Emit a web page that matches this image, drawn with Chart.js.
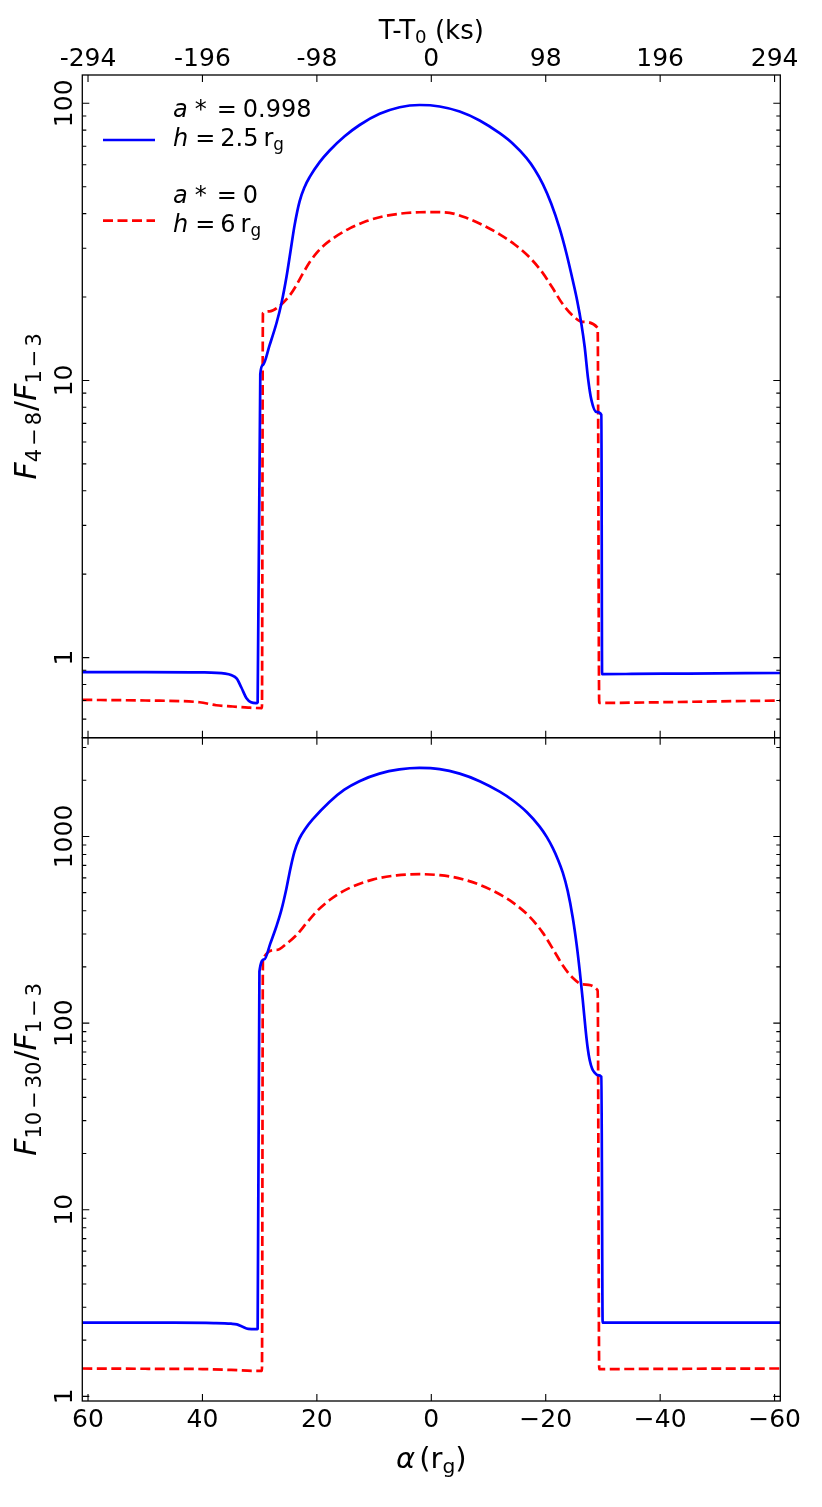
<!DOCTYPE html>
<html>
<head>
<meta charset="utf-8">
<script src="https://cdn.jsdelivr.net/npm/chart.js@4.4.0/dist/chart.umd.min.js"></script>
<style>
  html, body { margin: 0; padding: 0; background: #fff; }
  #wrap { position: relative; width: 822px; height: 1507px; }
  .panel { position: absolute; left: 0; top: 0; width: 822px; height: 1507px; }
</style>
</head>
<body>
<div id="wrap">
  <div class="panel"><canvas id="topChart"></canvas></div>
  <div class="panel"><canvas id="bottomChart"></canvas></div>
</div>
<script>
// tick values
const ALPHA_TICKS = [60, 40, 20, 0, -20, -40, -60];
const TIME_TICKS = [-294, -196, -98, 0, 98, 196, 294];
const TOP_Y_LABELS = [1, 10, 100];
const BOTTOM_Y_LABELS = [1, 10, 100, 1000];

// top panel: F(4-8)/F(1-3)
const topBlueAlpha = [61, 50, 40, 36, 35, 34, 33.2, 32.3, 31.5, 30.6, 30.35,
  29.89, 29.43, 28.26, 27.04, 26.17, 25.30, 24.60, 23.90, 23.02, 22.14, 21.27, 19.52, 17.77, 15.15, 12.53, 9.03, 5.53, 2.04,
  -1.46, -4.96, -8.45, -11.95, -14.22, -16.62, -18.07, -19.52, -20.97, -22.44, -23.59, -24.76, -25.50, -26.23, -26.81, -27.39,
  -27.98, -28.86, -29.73, -29.85, -35, -45, -61];
const topBlueRatio = [0.886, 0.886, 0.884, 0.875, 0.865, 0.84, 0.78, 0.714, 0.69, 0.685, 0.69,
  10.53, 11.37, 13.41, 16.15, 19.07, 23.71, 29.33, 36.27, 44.27, 49.93, 54.13, 61.32, 67.56, 76.03, 83.5, 91.6, 96.8, 98.6,
  97.4, 93.4, 86.7, 78.0, 71.6, 63.5, 57.7, 51.0, 43.4, 35.3, 28.9, 22.8, 19.4, 16.0, 13.2, 10.2,
  8.51, 7.70, 7.51, 0.872, 0.873, 0.876, 0.88];

const topRedAlpha = [61, 50, 40.5, 37.6, 34.7, 32, 29.6,
  29.43, 28.26, 26.51, 24.76, 23.71, 22.66, 21.27, 20.04, 18.64, 17.25, 14.27, 11.30, 8.51, 5.53, 2.04, -0.24,
  -3.21, -6.18, -8.98, -11.95, -14.58, -17.20, -19.47, -21.21, -22.96, -24.71, -26.46, -29.08,
  -29.35, -40, -50, -61];
const topRedRatio = [0.704, 0.700, 0.690, 0.673, 0.666, 0.660, 0.657,
  17.48, 17.76, 18.58, 20.25, 21.83, 23.88, 26.69, 28.84, 30.88, 32.50, 35.38, 37.58, 39.04, 39.96, 40.44, 40.51,
  40.24, 38.58, 36.39, 33.66, 30.95, 27.76, 24.44, 21.54, 18.86, 17.15, 16.27, 15.48,
  0.686, 0.690, 0.695, 0.700];

// bottom panel: F(10-30)/F(1-3)
const bottomBlueAlpha = [61, 45, 38, 35, 34, 33, 32, 30.6, 30.35,
  30.04, 29.17, 28.13, 27.08, 26.21, 25.33, 24.63, 23.93, 23.06, 22.01, 20.78, 17.81, 15.19, 12.56, 9.07, 5.57, 2.07,
  -1.46, -4.96, -8.45, -11.95, -14.22, -16.67, -18.94, -20.17, -21.22, -22.09, -22.97, -23.84, -24.72, -25.42, -25.94,
  -26.47, -26.99, -27.34, -27.69, -28.12, -28.56, -29.08, -29.73,
  -29.95, -45, -61];
const bottomBlueRatio = [2.48, 2.48, 2.47, 2.45, 2.43, 2.36, 2.30, 2.29, 2.30,
  189, 219.9, 267.5, 329.2, 402.6, 525.0, 672.0, 826.8, 973.2, 1100, 1230, 1532, 1781, 1979, 2171, 2287, 2330,
  2296, 2171, 1979, 1739, 1564, 1353, 1130, 995, 869, 758, 642, 511, 368, 261, 191,
  133, 90.9, 73.3, 63.2, 56.9, 54.2, 52.6, 51.5,
  2.48, 2.48, 2.48];

const bottomRedAlpha = [61, 50, 40, 35, 31, 29.6,
  29.43, 27.04, 25.29, 23.54, 21.79, 20.04, 17.77, 14.80, 10.25, 6.06, 2.04,
  -1.46, -5.48, -10.20, -14.22, -17.19, -19.47, -21.56, -22.96, -24.71, -26.46, -29.08,
  -29.35, -45, -61];
const bottomRedRatio = [1.41, 1.405, 1.40, 1.385, 1.37, 1.37,
  220.3, 246.6, 266.5, 296.8, 344.1, 396.6, 456.5, 520.4, 587.3, 618.6, 627.9,
  620.2, 590.3, 522.4, 443.2, 371.5, 305.3, 240.9, 204.2, 175.0, 161.4, 149.9,
  1.40, 1.405, 1.41];

const FONT = '"DejaVu Sans", sans-serif';
const BLUE = '#0000ff';
const RED = '#ff0000';
const DASH = [10, 4.5];

function pts(xs, ys) {
  return xs.map((x, i) => ({ x: x, y: ys[i] }));
}

// small helper for mathtext-like labels (italic letters, subscripts)
function partFont(p, size) {
  return (p.it ? 'italic ' : '') + (p.sub ? size * 0.7 : size) + 'px ' + FONT;
}
function richWidth(ctx, parts, size) {
  let w = 0;
  parts.forEach(p => {
    if (p.gap !== undefined) { w += p.gap; return; }
    ctx.font = partFont(p, size);
    w += ctx.measureText(p.t).width;
  });
  return w;
}
function drawRich(ctx, parts, x, y, size, center) {
  let cx = center ? x - richWidth(ctx, parts, size) / 2 : x;
  ctx.textAlign = 'left';
  ctx.textBaseline = 'alphabetic';
  ctx.fillStyle = '#000';
  parts.forEach(p => {
    if (p.gap !== undefined) { cx += p.gap; return; }
    ctx.font = partFont(p, size);
    ctx.fillText(p.t, cx, y + (p.sub ? size * 0.17 : 0));
    cx += ctx.measureText(p.t).width;
  });
}

const topTitle = [{t: 'F', it: true}, {t: '4', sub: true}, {gap: 3}, {t: '\u2212', sub: true}, {gap: 3}, {t: '8', sub: true},
  {gap: 1}, {t: '/'}, {t: 'F', it: true}, {t: '1', sub: true}, {gap: 3}, {t: '\u2212', sub: true}, {gap: 3}, {t: '3', sub: true}];
const bottomTitle = [{t: 'F', it: true}, {t: '10', sub: true}, {gap: 3}, {t: '\u2212', sub: true}, {gap: 3}, {t: '30', sub: true},
  {gap: 1}, {t: '/'}, {t: 'F', it: true}, {t: '1', sub: true}, {gap: 3}, {t: '\u2212', sub: true}, {gap: 3}, {t: '3', sub: true}];
const timeTitle = [{t: 'T-T'}, {t: '0', sub: true}, {t: ' (ks)'}];
const alphaTitle = [{t: '\u03b1', it: true}, {gap: 4}, {t: '('}, {t: 'r'}, {t: 'g', sub: true}, {t: ')'}];
const legendRows = [
  {y: 116.5, parts: [{t: 'a', it: true}, {gap: 7}, {t: '*'}, {gap: 10}, {t: '='}, {gap: 6}, {t: '0.998'}]},
  {y: 145.5, parts: [{t: 'h', it: true}, {gap: 7}, {t: '='}, {gap: 5}, {t: '2.5'}, {gap: 5}, {t: 'r'}, {t: 'g', sub: true}]},
  {y: 203.3, parts: [{t: 'a', it: true}, {gap: 7}, {t: '*'}, {gap: 10}, {t: '='}, {gap: 6}, {t: '0'}]},
  {y: 231.7, parts: [{t: 'h', it: true}, {gap: 7}, {t: '='}, {gap: 5}, {t: '6'}, {gap: 5}, {t: 'r'}, {t: 'g', sub: true}]}
];

// frame, inward ticks, y labels, titles, legend
const panelDecor = {
  id: 'panelDecor',
  afterDatasetsDraw(chart, args, o) {
    const ctx = chart.ctx;
    const a = chart.chartArea;
    const xs = chart.scales.x;
    const ys = chart.scales.y;
    ctx.save();
    ctx.strokeStyle = '#000';
    ctx.lineWidth = 1.3;
    ctx.strokeRect(a.left, a.top, a.right - a.left, a.bottom - a.top);

    ctx.lineWidth = 1.1;
    ctx.beginPath();
    // x ticks
    ALPHA_TICKS.forEach(v => {
      const px = xs.getPixelForValue(v);
      ctx.moveTo(px, a.bottom); ctx.lineTo(px, a.bottom - 7);
      if (!o.timeAxis) { ctx.moveTo(px, a.top); ctx.lineTo(px, a.top + 7); }
    });
    if (o.timeAxis) {
      const ts = chart.scales.xTop;
      TIME_TICKS.forEach(v => {
        const px = ts.getPixelForValue(v);
        ctx.moveTo(px, a.top); ctx.lineTo(px, a.top + 7);
      });
    }
    // y ticks (log, major + minor)
    const lo = Math.floor(Math.log10(ys.min));
    const hi = Math.ceil(Math.log10(ys.max));
    for (let d = lo; d <= hi; d++) {
      for (let m = 1; m <= 9; m++) {
        const v = m * Math.pow(10, d);
        if (v < ys.min || v > ys.max) continue;
        const py = ys.getPixelForValue(v);
        const len = m === 1 ? 7 : 4;
        ctx.moveTo(a.left, py); ctx.lineTo(a.left + len, py);
        ctx.moveTo(a.right, py); ctx.lineTo(a.right - len, py);
      }
    }
    ctx.stroke();

    // y tick labels, rotated
    ctx.fillStyle = '#000';
    ctx.font = '25px ' + FONT;
    o.yLabels.forEach(v => {
      ctx.save();
      ctx.translate(72, ys.getPixelForValue(v));
      ctx.rotate(-Math.PI / 2);
      ctx.textAlign = 'center';
      ctx.textBaseline = 'alphabetic';
      ctx.fillText(String(v), 0, 0);
      ctx.restore();
    });

    // y title
    ctx.save();
    ctx.translate(36, (a.top + a.bottom) / 2);
    ctx.rotate(-Math.PI / 2);
    drawRich(ctx, o.title, 0, 0, 30, true);
    ctx.restore();

    const cx = (a.left + a.right) / 2;
    if (o.timeAxis) {
      drawRich(ctx, timeTitle, cx, 39, 26, true);
    }
    if (o.alphaTitle) {
      drawRich(ctx, alphaTitle, cx, 1468, 29, true);
    }

    if (o.legend) {
      ctx.lineWidth = 2.7;
      ctx.strokeStyle = BLUE;
      ctx.setLineDash([]);
      ctx.beginPath(); ctx.moveTo(103, 140); ctx.lineTo(155, 140); ctx.stroke();
      ctx.strokeStyle = RED;
      ctx.setLineDash(DASH);
      ctx.beginPath(); ctx.moveTo(103, 220.7); ctx.lineTo(155, 220.7); ctx.stroke();
      ctx.setLineDash([]);
      legendRows.forEach(r => drawRich(ctx, r.parts, 173, r.y, 24, false));
    }
    ctx.restore();
  }
};

function lineSets(blueA, blueR, redA, redR) {
  return [
    { data: pts(blueA, blueR), borderColor: BLUE, borderWidth: 2.7 },
    { data: pts(redA, redR), borderColor: RED, borderWidth: 2.7, borderDash: DASH }
  ];
}

const common = {
  responsive: true,
  maintainAspectRatio: false,
  animation: false,
  events: [],
  elements: {
    point: { radius: 0 },
    line: { cubicInterpolationMode: 'monotone', borderJoinStyle: 'round' }
  }
};

new Chart(document.getElementById('topChart'), {
  type: 'line',
  data: { datasets: lineSets(topBlueAlpha, topBlueRatio, topRedAlpha, topRedRatio) },
  options: Object.assign({}, common, {
    layout: { padding: { left: 82.3, right: 41.7, top: 0, bottom: 769.3 } },
    plugins: {
      legend: { display: false },
      tooltip: { enabled: false },
      panelDecor: { yLabels: TOP_Y_LABELS, title: topTitle, timeAxis: true, legend: true }
    },
    scales: {
      x: { type: 'linear', display: false, min: -61, max: 61, reverse: true },
      xTop: {
        type: 'linear', position: 'top', min: -298.9, max: 298.9,
        grid: { display: false, drawTicks: false },
        border: { display: false },
        afterBuildTicks: s => { s.ticks = TIME_TICKS.map(v => ({ value: v })); },
        afterFit: s => { s.height = 75; },
        ticks: { color: '#000', font: { family: 'DejaVu Sans', size: 25 }, padding: 1, autoSkip: false, maxRotation: 0,
          callback: v => String(v) }
      },
      y: { type: 'logarithmic', display: false, min: 0.514, max: 126.5 }
    }
  }),
  plugins: [panelDecor]
});

new Chart(document.getElementById('bottomChart'), {
  type: 'line',
  data: { datasets: lineSets(bottomBlueAlpha, bottomBlueRatio, bottomRedAlpha, bottomRedRatio) },
  options: Object.assign({}, common, {
    layout: { padding: { left: 82.3, right: 41.7, top: 737.7, bottom: 0 } },
    plugins: {
      legend: { display: false },
      tooltip: { enabled: false },
      panelDecor: { yLabels: BOTTOM_Y_LABELS, title: bottomTitle, alphaTitle: true }
    },
    scales: {
      x: {
        type: 'linear', position: 'bottom', min: -61, max: 61, reverse: true,
        grid: { display: false, drawTicks: false },
        border: { display: false },
        afterBuildTicks: s => { s.ticks = ALPHA_TICKS.map(v => ({ value: v })); },
        afterFit: s => { s.height = 106; },
        ticks: { color: '#000', font: { family: 'DejaVu Sans', size: 25 }, padding: 4, autoSkip: false, maxRotation: 0,
          callback: v => (v < 0 ? '\u2212' + Math.abs(v) : String(v)) }
      },
      y: { type: 'logarithmic', display: false, min: 0.944, max: 3383 }
    }
  }),
  plugins: [panelDecor]
});
</script>
</body>
</html>
